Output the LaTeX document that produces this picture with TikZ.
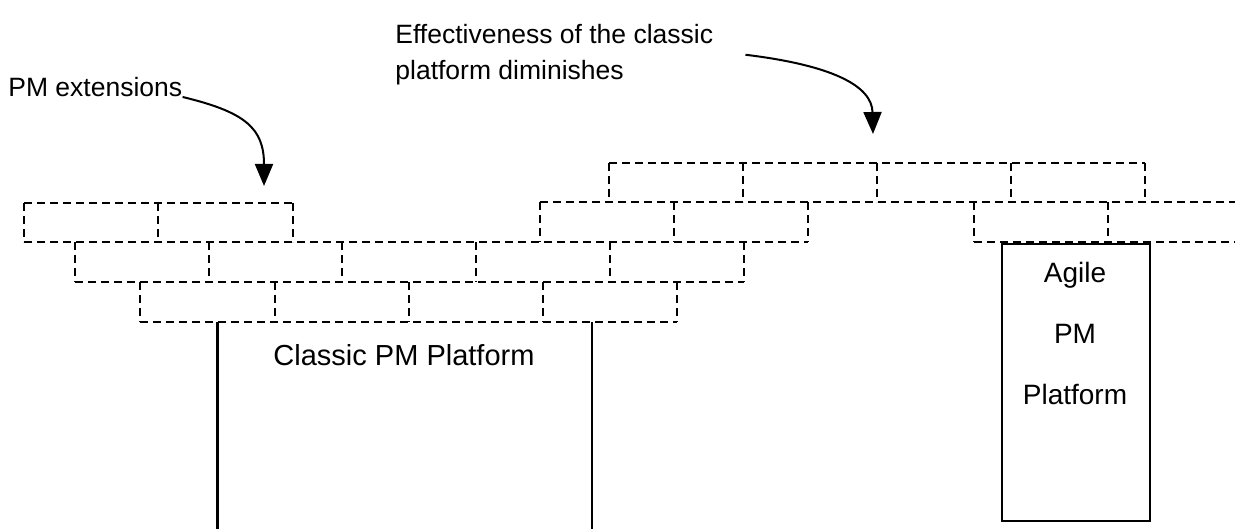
\documentclass[tikz,border=0pt]{standalone}
\usepackage{fontspec}
\setmainfont{Liberation Sans}
\usetikzlibrary{arrows.meta}
\tikzset{
	brick/.style={dash pattern=on 4pt off 2.5pt,line width=1pt},
	lbl/.style={inner sep=0pt,font=\fontsize{13.25}{18}\selectfont},
	pointer/.style={line width=1pt,-{Triangle[width=9pt,length=11pt]}}
}
\begin{document}
\begin{tikzpicture}[x=0.5pt,y=-0.5pt]
		\clip(0,0)rectangle(1235,529);
		% classic platform, left wall of bricks
		\draw[brick](24,203)--(293,203);
		\draw[brick](24,242)--(808,242);
		\draw[brick](75,282)--(744,282);
		\draw[brick](140,322)--(677,322);
		\foreach \x in {24,158,293} {
			\draw[brick](\x,203)--(\x,242);
		}
		\foreach \x in {75,209,342,476,610,744} {
			\draw[brick](\x,242)--(\x,282);
		}
		\foreach \x in {140,275,409,543,677} {
			\draw[brick](\x,282)--(\x,322);
		}
		\node[inner sep=0pt,outer sep=0pt,minimum width=187.5pt,minimum height=120pt,anchor=north west](classic)at(217,322){};
		\draw[line width=1.5pt](classic.north west)--(classic.south west);
		\draw[line width=0.75pt](classic.north east)--(classic.south east);
		\node[inner sep=0pt,anchor=base,font=\fontsize{14.5}{18}\selectfont](classictext)at(404,365){Classic PM Platform};
		% agile platform, right wall of bricks
		\draw[brick](609,163)--(1145,163);
		\draw[brick](540,202)--(1240,202);
		\draw[brick](974,242)--(1240,242);
		\foreach \x in {609,743,877,1011,1145} {
			\draw[brick](\x,163)--(\x,202);
		}
		\foreach \x in {540,674,808,974,1108} {
			\draw[brick](\x,202)--(\x,242);
		}
		\node[draw,line width=0.75pt,inner sep=0pt,minimum width=74pt,minimum height=138.5pt,anchor=north west](agile)at(1001,243){};
		\node[inner sep=0pt,anchor=north,align=center,font=\fontsize{14}{30.5}\selectfont](agiletext)at(1075,262){Agile\\PM\\Platform};
		% labels
		\node[lbl,anchor=base west](ext)at(8,97){PM extensions};
		\node[lbl,anchor=north west,align=left](eff)at(395,24){Effectiveness of the classic\\platform diminishes};
		\coordinate(extTip)at(264,186);
		\coordinate(effTip)at(873,134);
		\draw[pointer](ext.base east)..controls(245,112)and(264,128)..(extTip);
		\draw[pointer]([xshift=16pt]eff.east)..controls(830,65)and(872,85)..(effTip);
	\end{tikzpicture}
\end{document}
